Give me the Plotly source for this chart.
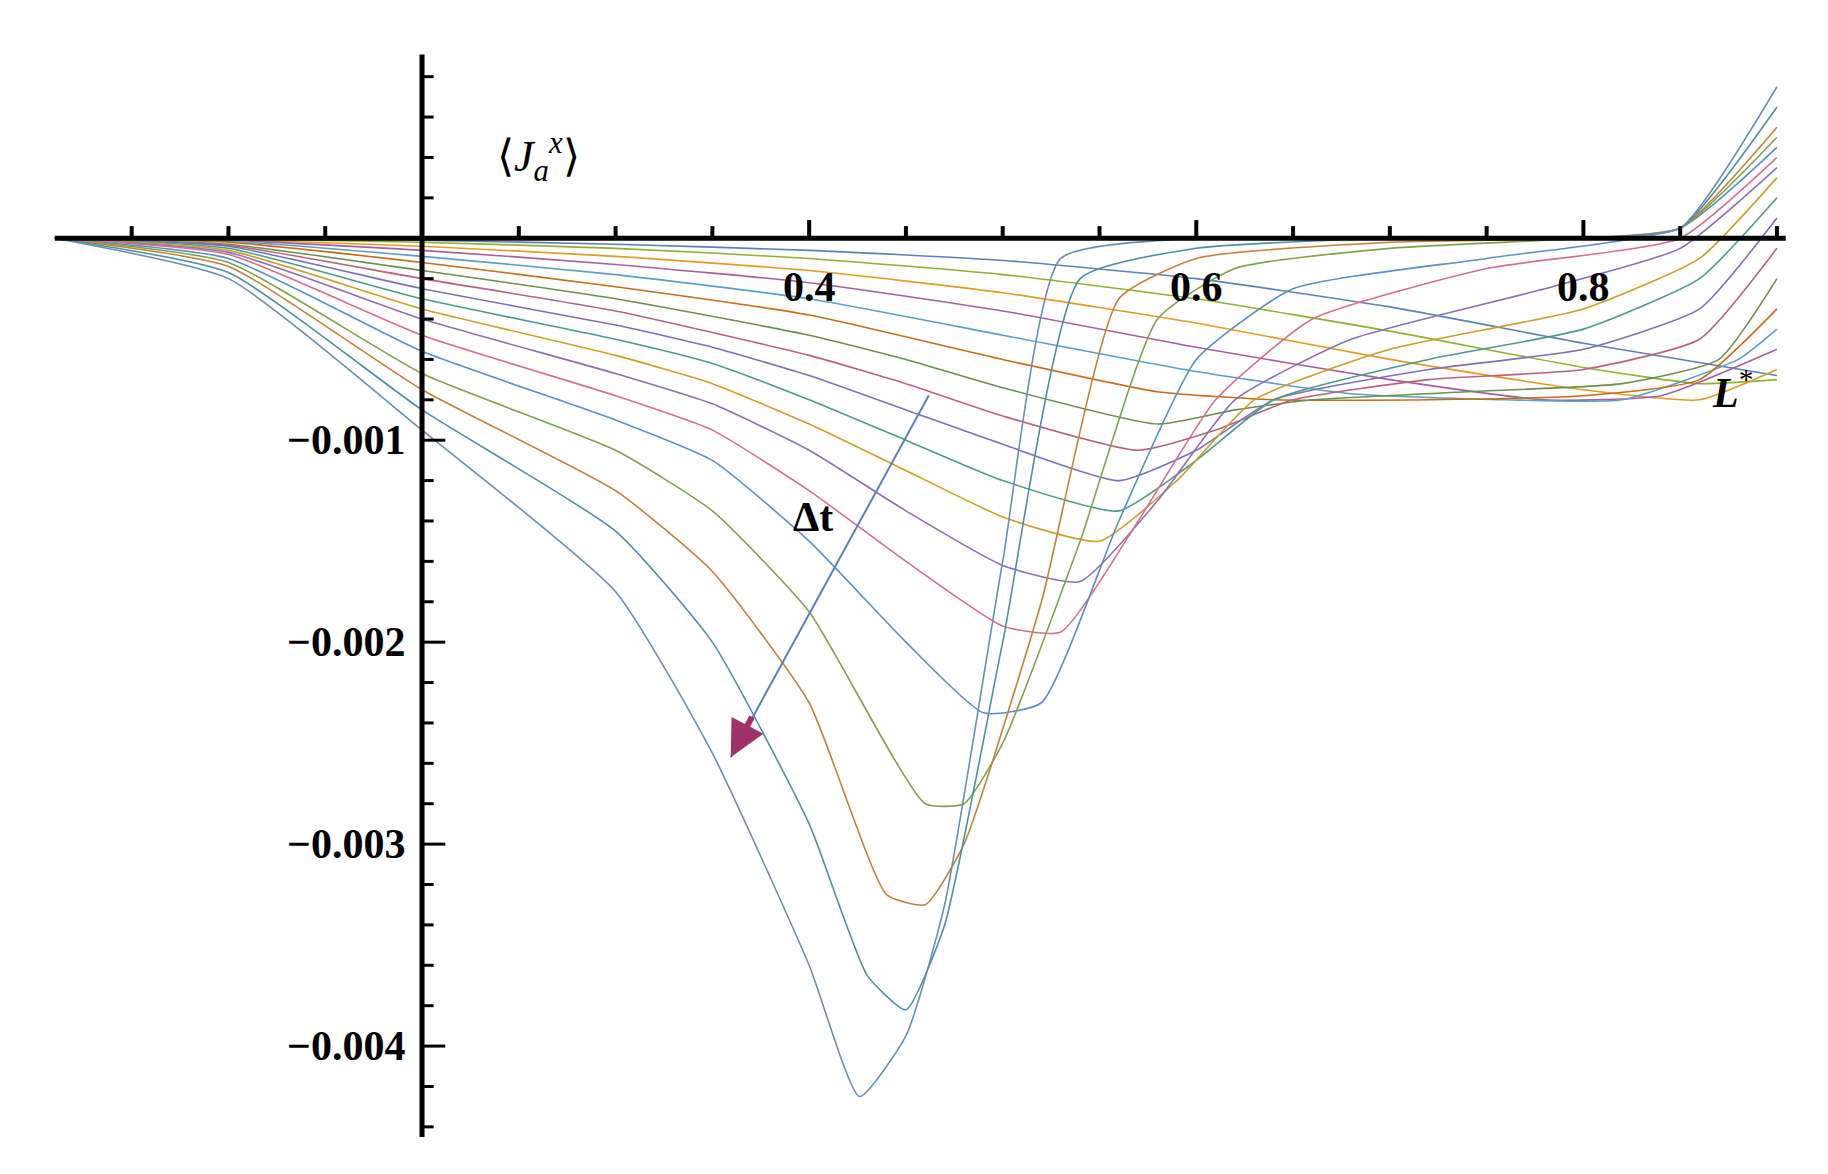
import plotly.graph_objects as go

# curve data, y in units of 1e-3 (shallowest first, deepest last)
curve_x = [
    [0.01,0.1,0.2,0.3,0.4,0.5,0.6,0.7,0.8,0.9],
    [0.01,0.1,0.2,0.3,0.4,0.5,0.6,0.7,0.8,0.86,0.9],
    [0.01,0.1,0.2,0.3,0.4,0.5,0.6,0.7,0.8,0.86,0.9],
    [0.01,0.1,0.2,0.3,0.4,0.5,0.6,0.7,0.78,0.84,0.9],
    [0.01,0.1,0.2,0.3,0.4,0.5,0.6,0.68,0.76,0.82,0.88,0.9],
    [0.01,0.1,0.2,0.3,0.4,0.5,0.58,0.64,0.72,0.8,0.86,0.9],
    [0.01,0.1,0.2,0.3,0.4,0.45,0.5,0.58,0.62,0.66,0.74,0.82,0.87,0.9],
    [0.01,0.1,0.2,0.3,0.4,0.45,0.5,0.57,0.61,0.65,0.72,0.8,0.86,0.9],
    [0.01,0.1,0.2,0.3,0.35,0.4,0.45,0.5,0.56,0.6,0.64,0.72,0.8,0.86,0.9],
    [0.01,0.1,0.2,0.3,0.35,0.4,0.45,0.5,0.56,0.6,0.64,0.72,0.8,0.86,0.9],
    [0.01,0.1,0.2,0.3,0.35,0.4,0.45,0.5,0.55,0.59,0.63,0.7,0.8,0.86,0.9],
    [0.01,0.1,0.2,0.3,0.35,0.4,0.45,0.5,0.54,0.58,0.62,0.68,0.78,0.85,0.9],
    [0.01,0.1,0.2,0.3,0.35,0.4,0.45,0.5,0.53,0.57,0.61,0.66,0.75,0.85,0.9],
    [0.01,0.1,0.2,0.3,0.35,0.4,0.45,0.49,0.52,0.56,0.6,0.65,0.75,0.85,0.9],
    [0.01,0.1,0.2,0.3,0.35,0.4,0.46,0.48,0.5,0.54,0.58,0.62,0.7,0.8,0.85,0.9],
    [0.01,0.1,0.2,0.3,0.35,0.4,0.44,0.46,0.48,0.52,0.56,0.6,0.7,0.8,0.85,0.9],
    [0.01,0.1,0.2,0.3,0.35,0.4,0.43,0.45,0.47,0.5,0.54,0.6,0.7,0.8,0.85,0.9],
    [0.01,0.1,0.2,0.3,0.35,0.4,0.426,0.45,0.47,0.5,0.53,0.6,0.7,0.8,0.85,0.9],
]
curve_y = [
    [0,-0.002,-0.01,-0.03,-0.06,-0.11,-0.2,-0.34,-0.52,-0.68],
    [0,-0.004,-0.02,-0.05,-0.1,-0.18,-0.3,-0.46,-0.64,-0.72,-0.7],
    [0,-0.007,-0.04,-0.09,-0.16,-0.27,-0.42,-0.6,-0.75,-0.8,-0.65],
    [0,-0.01,-0.06,-0.13,-0.22,-0.36,-0.54,-0.7,-0.8,-0.78,-0.55],
    [0,-0.015,-0.09,-0.18,-0.3,-0.48,-0.66,-0.77,-0.8,-0.8,-0.6,-0.45],
    [0,-0.02,-0.12,-0.24,-0.38,-0.6,-0.76,-0.8,-0.8,-0.78,-0.7,-0.35],
    [0,-0.03,-0.16,-0.3,-0.48,-0.6,-0.74,-0.92,-0.85,-0.8,-0.76,-0.72,-0.6,-0.2],
    [0,-0.035,-0.2,-0.36,-0.58,-0.72,-0.88,-1.05,-0.95,-0.8,-0.7,-0.65,-0.5,-0.05],
    [0,-0.04,-0.25,-0.43,-0.54,-0.68,-0.85,-1.02,-1.2,-1.05,-0.8,-0.65,-0.55,-0.35,0.1],
    [0,-0.05,-0.3,-0.5,-0.62,-0.8,-1.0,-1.2,-1.35,-1.1,-0.8,-0.6,-0.45,-0.2,0.2],
    [0,-0.06,-0.35,-0.58,-0.72,-0.92,-1.15,-1.38,-1.5,-1.2,-0.8,-0.55,-0.35,-0.1,0.3],
    [0,-0.07,-0.4,-0.67,-0.82,-1.05,-1.35,-1.62,-1.7,-1.3,-0.8,-0.5,-0.25,-0.05,0.35],
    [0,-0.08,-0.48,-0.78,-0.95,-1.25,-1.6,-1.92,-1.95,-1.4,-0.8,-0.4,-0.15,0.0,0.4],
    [0,-0.1,-0.56,-0.9,-1.1,-1.5,-2.0,-2.35,-2.3,-1.4,-0.6,-0.25,-0.1,0.05,0.45],
    [0,-0.12,-0.67,-1.05,-1.35,-1.85,-2.8,-2.8,-2.5,-1.5,-0.4,-0.15,-0.05,0.0,0.05,0.5],
    [0,-0.14,-0.75,-1.25,-1.65,-2.3,-3.25,-3.3,-3.0,-1.8,-0.3,-0.1,-0.02,0.0,0.05,0.55],
    [0,-0.17,-0.85,-1.45,-2.0,-2.9,-3.65,-3.82,-3.4,-2.0,-0.2,-0.05,0.0,0.0,0.05,0.65],
    [0,-0.2,-0.95,-1.75,-2.55,-3.6,-4.25,-3.95,-3.3,-1.6,-0.1,0.0,0.0,0.0,0.05,0.75],
]
colors = ["#5e81b5","#8fb032","#e19c24","#a5609d","#5d9ec7","#c56e1a",
          "#6a8f4e","#b5647a","#7a72b8","#4f9a8a","#c9a02a","#8e6fb0",
          "#d4708f","#5b8fc2","#7fa34a","#c2823c","#4f8fa0","#6b8fb0"]

x_ticks = [0.4, 0.6, 0.8]
y_ticks = [-0.001, -0.002, -0.003, -0.004]
y_tick_text = ["\u22120.001", "\u22120.002", "\u22120.003", "\u22120.004"]

fig = go.Figure()
for i, (xs, ys) in enumerate(zip(curve_x, curve_y)):
    fig.add_trace(go.Scatter(x=xs, y=[v * 1e-3 for v in ys], mode="lines",
                             line=dict(color=colors[i % len(colors)], width=1.6,
                                       shape="spline", smoothing=0.5),
                             showlegend=False, hoverinfo="skip"))

X0, X1 = -0.0139, 0.9305
Y0, Y1 = -0.004673, 0.00114
shapes = []
shapes.append(dict(type="line", x0=0.0103, x1=0.9045, y0=0, y1=0, line=dict(color="black", width=5)))
shapes.append(dict(type="line", x0=0.2, x1=0.2, y0=-0.00445, y1=0.00091, line=dict(color="black", width=5)))
for k in range(1, 19):
    xv = k * 0.05
    if abs(xv - 0.2) < 1e-9:
        continue
    major = abs(xv * 10 - round(xv * 10)) < 1e-6 and round(xv * 10) % 2 == 0
    h = 0.00009 if major else 0.00006
    shapes.append(dict(type="line", x0=xv, x1=xv, y0=0, y1=h, line=dict(color="black", width=4)))
for k in range(-22, 5):
    yv = k * 0.0002
    if k == 0:
        continue
    w = 0.012 if k % 5 == 0 else 0.006
    shapes.append(dict(type="line", x0=0.2, x1=0.2 + w, y0=yv, y1=yv, line=dict(color="black", width=3)))

tick_font = dict(family="Liberation Serif", size=42, color="black")
annotations = []
for xv in x_ticks:
    annotations.append(dict(x=xv, y=-0.00012, text=f"<b>{xv:.1f}</b>", showarrow=False, yanchor="top",
                            font=tick_font))
for yv, t in zip(y_ticks, y_tick_text):
    annotations.append(dict(x=0.192, y=yv, text=f"<b>{t}</b>", showarrow=False, xanchor="right",
                            font=tick_font))
annotations.append(dict(x=0.26, y=0.0004, text="\u27e8<i>J</i><sub><i>a</i></sub><sup><i>x</i></sup>\u27e9",
                        showarrow=False, font=dict(family="Liberation Serif", size=44, color="black")))
annotations.append(dict(x=0.877, y=-0.00075, text="<b><i>L</i></b><sup>*</sup>", showarrow=False,
                        font=tick_font))
annotations.append(dict(x=0.402, y=-0.00138, text="<b>\u0394t</b>", showarrow=False, font=tick_font))
# arrow shaft
annotations.append(dict(x=0.3595, y=-0.00257, ax=0.4623, ay=-0.00077, axref="x", ayref="y",
                        xref="x", yref="y", text="", showarrow=True, arrowhead=0,
                        arrowwidth=2, arrowcolor="#5e81b5"))
# arrow head
annotations.append(dict(x=0.3595, y=-0.00257, ax=22, ay=-42, xref="x", yref="y",
                        text="", showarrow=True, arrowhead=2, arrowsize=1.2,
                        arrowwidth=6, arrowcolor="#a0306a"))

fig.update_layout(width=1828, height=1174, margin=dict(l=0, r=0, t=0, b=0),
                  plot_bgcolor="white", paper_bgcolor="white",
                  xaxis=dict(range=[X0, X1], visible=False),
                  yaxis=dict(range=[Y0, Y1], visible=False),
                  shapes=shapes, annotations=annotations)
fig.write_html("out.html")
